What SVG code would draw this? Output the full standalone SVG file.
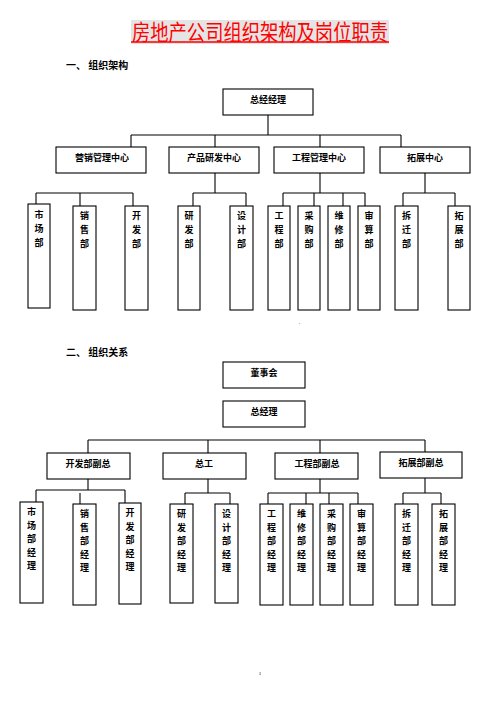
<svg xmlns="http://www.w3.org/2000/svg" width="496" height="702" viewBox="0 0 496 702">
<style>
.b{fill:#fff;stroke:#000;stroke-width:1.1}
.t{font-family:"Noto Sans CJK SC","Liberation Sans",sans-serif;font-weight:bold;font-size:9px;fill:#000;text-anchor:middle}
.h{font-family:"Noto Sans CJK SC","Liberation Sans",sans-serif;font-weight:bold;font-size:10px;fill:#000}
.c line{stroke:#000;stroke-width:1.1}
</style>
<rect x="0" y="0" width="496" height="702" fill="#fff"/>
<g id="title">
<rect x="131" y="20" width="258" height="24" fill="#e4e4e4"/>
<text x="260" y="39.5" font-family="'Noto Sans CJK SC','Liberation Sans',sans-serif" font-size="21.5" fill="#ff0000" text-anchor="middle" textLength="256" lengthAdjust="spacingAndGlyphs">房地产公司组织架构及岗位职责</text>
<line x1="131" y1="42" x2="389" y2="42" stroke="#ff0000" stroke-width="1.4"/>
</g>
<text class="h" x="66" y="68.5">一、 组织架构</text>
<text class="h" x="66" y="355.5">二、 组织关系</text>

<g id="connectors" class="c">
<!-- chart 1 -->
<line x1="268" y1="115" x2="268" y2="135"/>
<line x1="131" y1="135" x2="401" y2="135"/>
<line x1="131" y1="135" x2="131" y2="147"/>
<line x1="215" y1="135" x2="215" y2="147"/>
<line x1="320" y1="135" x2="320" y2="147"/>
<line x1="401" y1="135" x2="401" y2="147"/>
<line x1="36" y1="193" x2="133" y2="193"/>
<line x1="36" y1="193" x2="36" y2="204"/>
<line x1="80" y1="193" x2="80" y2="206"/>
<line x1="133" y1="193" x2="133" y2="206"/>
<line x1="215" y1="173" x2="215" y2="193"/>
<line x1="193" y1="193" x2="246" y2="193"/>
<line x1="193" y1="193" x2="193" y2="206"/>
<line x1="246" y1="193" x2="246" y2="206"/>
<line x1="320" y1="173" x2="320" y2="193"/>
<line x1="283" y1="193" x2="365" y2="193"/>
<line x1="283" y1="193" x2="283" y2="206"/>
<line x1="314" y1="193" x2="314" y2="206"/>
<line x1="343" y1="193" x2="343" y2="206"/>
<line x1="365" y1="193" x2="365" y2="206"/>
<line x1="425" y1="173" x2="425" y2="193"/>
<line x1="403" y1="193" x2="455" y2="193"/>
<line x1="403" y1="193" x2="403" y2="206"/>
<line x1="455" y1="193" x2="455" y2="206"/>
<!-- chart 2 -->
<line x1="88" y1="440" x2="425" y2="440"/>
<line x1="88" y1="440" x2="88" y2="453"/>
<line x1="208" y1="440" x2="208" y2="453"/>
<line x1="320" y1="440" x2="320" y2="453"/>
<line x1="425" y1="440" x2="425" y2="452"/>
<line x1="88" y1="478" x2="88" y2="490"/>
<line x1="36" y1="490" x2="125" y2="490"/>
<line x1="36" y1="490" x2="36" y2="502"/>
<line x1="80" y1="493" x2="80" y2="504"/>
<line x1="125" y1="490" x2="125" y2="503"/>
<line x1="208" y1="479" x2="208" y2="493"/>
<line x1="185" y1="493" x2="230" y2="493"/>
<line x1="185" y1="493" x2="185" y2="504"/>
<line x1="230" y1="493" x2="230" y2="504"/>
<line x1="320" y1="479" x2="320" y2="493"/>
<line x1="268" y1="493" x2="358" y2="493"/>
<line x1="268" y1="493" x2="268" y2="504"/>
<line x1="306" y1="493" x2="306" y2="504"/>
<line x1="329" y1="493" x2="329" y2="504"/>
<line x1="358" y1="493" x2="358" y2="504"/>
<line x1="425" y1="478" x2="425" y2="493"/>
<line x1="403" y1="493" x2="441" y2="493"/>
<line x1="403" y1="493" x2="403" y2="504"/>
<line x1="441" y1="493" x2="441" y2="504"/>
</g>

<!-- chart 1 nodes -->
<g id="n-gm1"><rect class="b" x="223" y="89" width="90" height="26"/><text class="t" x="268" y="102.5">总经经理</text></g>
<g id="n-yx"><rect class="b" x="56" y="147" width="90" height="26"/><text class="t" x="102" y="160.5">营销管理中心</text></g>
<g id="n-cp"><rect class="b" x="169" y="147" width="90" height="26"/><text class="t" x="214" y="160.5">产品研发中心</text></g>
<g id="n-gc"><rect class="b" x="274" y="147" width="90" height="26"/><text class="t" x="319" y="160.5">工程管理中心</text></g>
<g id="n-tz"><rect class="b" x="380" y="147" width="90" height="26"/><text class="t" x="425" y="160.5">拓展中心</text></g>

<g id="n-sc"><rect class="b" x="28" y="204" width="22" height="104"/><text class="t" x="39"><tspan x="39" y="217.5">市</tspan><tspan x="39" y="231.5">场</tspan><tspan x="39" y="245.5">部</tspan></text></g>
<g id="n-xs"><rect class="b" x="73" y="206" width="23" height="104"/><text class="t"><tspan x="84.5" y="219">销</tspan><tspan x="84.5" y="233">售</tspan><tspan x="84.5" y="247">部</tspan></text></g>
<g id="n-kf"><rect class="b" x="125" y="206" width="23" height="104"/><text class="t"><tspan x="136.5" y="219">开</tspan><tspan x="136.5" y="233">发</tspan><tspan x="136.5" y="247">部</tspan></text></g>
<g id="n-yf"><rect class="b" x="178" y="206" width="22" height="104"/><text class="t"><tspan x="189" y="219">研</tspan><tspan x="189" y="233">发</tspan><tspan x="189" y="247">部</tspan></text></g>
<g id="n-sj"><rect class="b" x="230" y="206" width="23" height="104"/><text class="t"><tspan x="241.5" y="219">设</tspan><tspan x="241.5" y="233">计</tspan><tspan x="241.5" y="247">部</tspan></text></g>
<g id="n-gcb"><rect class="b" x="268" y="206" width="22" height="104"/><text class="t"><tspan x="279" y="219">工</tspan><tspan x="279" y="233">程</tspan><tspan x="279" y="247">部</tspan></text></g>
<g id="n-cg"><rect class="b" x="298" y="206" width="22" height="104"/><text class="t"><tspan x="309" y="219">采</tspan><tspan x="309" y="233">购</tspan><tspan x="309" y="247">部</tspan></text></g>
<g id="n-wx"><rect class="b" x="328" y="206" width="22" height="104"/><text class="t"><tspan x="339" y="219">维</tspan><tspan x="339" y="233">修</tspan><tspan x="339" y="247">部</tspan></text></g>
<g id="n-ss"><rect class="b" x="358" y="206" width="22" height="104"/><text class="t"><tspan x="369" y="219">审</tspan><tspan x="369" y="233">算</tspan><tspan x="369" y="247">部</tspan></text></g>
<g id="n-cq"><rect class="b" x="395" y="206" width="23" height="104"/><text class="t"><tspan x="406.5" y="219">拆</tspan><tspan x="406.5" y="233">迁</tspan><tspan x="406.5" y="247">部</tspan></text></g>
<g id="n-tzb"><rect class="b" x="448" y="206" width="22" height="104"/><text class="t"><tspan x="459" y="219">拓</tspan><tspan x="459" y="233">展</tspan><tspan x="459" y="247">部</tspan></text></g>
<text x="298.5" y="324" font-family="'Liberation Sans',sans-serif" font-size="6" fill="#000">.</text>

<!-- chart 2 nodes -->
<g id="n-dsh"><rect class="b" x="223" y="362" width="82" height="26"/><text class="t" x="264" y="375.5">董事会</text></g>
<g id="n-gm2"><rect class="b" x="223" y="401" width="82" height="26"/><text class="t" x="264" y="414.5">总经理</text></g>
<g id="n-kffz"><rect class="b" x="47" y="453" width="83" height="26"/><text class="t" x="88" y="466.5">开发部副总</text></g>
<g id="n-zg"><rect class="b" x="163" y="453" width="83" height="26"/><text class="t" x="204" y="466.5">总工</text></g>
<g id="n-gcfz"><rect class="b" x="275" y="453" width="83" height="26"/><text class="t" x="317" y="466.5">工程部副总</text></g>
<g id="n-tzfz"><rect class="b" x="380" y="452" width="82" height="26"/><text class="t" x="421" y="465.5">拓展部副总</text></g>

<g id="m-sc"><rect class="b" x="20" y="502" width="23" height="101"/><text class="t"><tspan x="31.5" y="515">市</tspan><tspan x="31.5" y="528.5">场</tspan><tspan x="31.5" y="542">部</tspan><tspan x="31.5" y="555.5">经</tspan><tspan x="31.5" y="569">理</tspan></text></g>
<g id="m-xs"><rect class="b" x="73" y="504" width="23" height="101"/><text class="t"><tspan x="84.5" y="517">销</tspan><tspan x="84.5" y="530.5">售</tspan><tspan x="84.5" y="544">部</tspan><tspan x="84.5" y="557.5">经</tspan><tspan x="84.5" y="571">理</tspan></text></g>
<g id="m-kf"><rect class="b" x="119" y="503" width="22" height="101"/><text class="t"><tspan x="130" y="516">开</tspan><tspan x="130" y="529.5">发</tspan><tspan x="130" y="543">部</tspan><tspan x="130" y="556.5">经</tspan><tspan x="130" y="570">理</tspan></text></g>
<g id="m-yf"><rect class="b" x="170" y="504" width="23" height="99"/><text class="t"><tspan x="181.5" y="517">研</tspan><tspan x="181.5" y="530.5">发</tspan><tspan x="181.5" y="544">部</tspan><tspan x="181.5" y="557.5">经</tspan><tspan x="181.5" y="571">理</tspan></text></g>
<g id="m-sj"><rect class="b" x="215" y="504" width="23" height="99"/><text class="t"><tspan x="226.5" y="517">设</tspan><tspan x="226.5" y="530.5">计</tspan><tspan x="226.5" y="544">部</tspan><tspan x="226.5" y="557.5">经</tspan><tspan x="226.5" y="571">理</tspan></text></g>
<g id="m-gc"><rect class="b" x="260" y="504" width="23" height="101"/><text class="t"><tspan x="271.5" y="517">工</tspan><tspan x="271.5" y="530.5">程</tspan><tspan x="271.5" y="544">部</tspan><tspan x="271.5" y="557.5">经</tspan><tspan x="271.5" y="571">理</tspan></text></g>
<g id="m-wx"><rect class="b" x="290" y="504" width="23" height="101"/><text class="t"><tspan x="301.5" y="517">维</tspan><tspan x="301.5" y="530.5">修</tspan><tspan x="301.5" y="544">部</tspan><tspan x="301.5" y="557.5">经</tspan><tspan x="301.5" y="571">理</tspan></text></g>
<g id="m-cg"><rect class="b" x="320" y="504" width="23" height="101"/><text class="t"><tspan x="331.5" y="517">采</tspan><tspan x="331.5" y="530.5">购</tspan><tspan x="331.5" y="544">部</tspan><tspan x="331.5" y="557.5">经</tspan><tspan x="331.5" y="571">理</tspan></text></g>
<g id="m-ss"><rect class="b" x="350" y="504" width="23" height="101"/><text class="t"><tspan x="361.5" y="517">审</tspan><tspan x="361.5" y="530.5">算</tspan><tspan x="361.5" y="544">部</tspan><tspan x="361.5" y="557.5">经</tspan><tspan x="361.5" y="571">理</tspan></text></g>
<g id="m-cq"><rect class="b" x="395" y="504" width="23" height="101"/><text class="t"><tspan x="406.5" y="517">拆</tspan><tspan x="406.5" y="530.5">迁</tspan><tspan x="406.5" y="544">部</tspan><tspan x="406.5" y="557.5">经</tspan><tspan x="406.5" y="571">理</tspan></text></g>
<g id="m-tz"><rect class="b" x="432" y="504" width="23" height="101"/><text class="t"><tspan x="443.5" y="517">拓</tspan><tspan x="443.5" y="530.5">展</tspan><tspan x="443.5" y="544">部</tspan><tspan x="443.5" y="557.5">经</tspan><tspan x="443.5" y="571">理</tspan></text></g>

<text x="260" y="675" font-family="'Liberation Serif',serif" font-size="5" fill="#000" text-anchor="middle">1</text>
</svg>
